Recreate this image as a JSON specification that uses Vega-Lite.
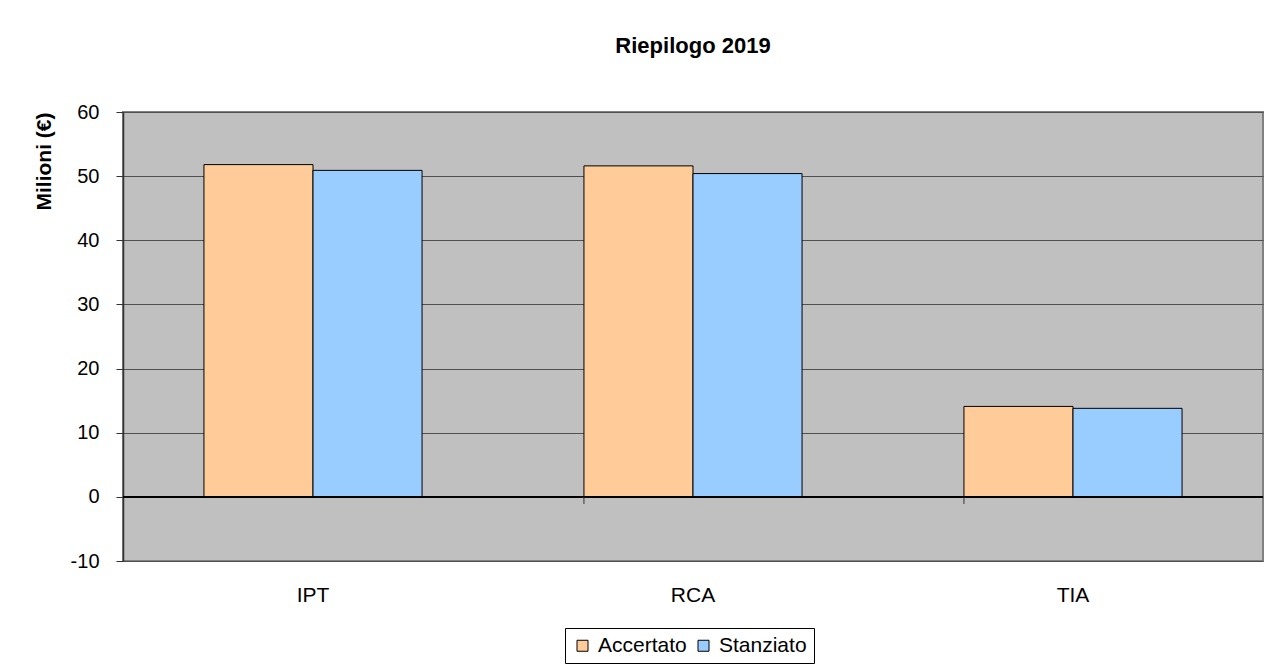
{
  "$schema": "https://vega.github.io/schema/vega-lite/v6.json",
  "width": 1140,
  "height": 449,
  "autosize": {"type": "none"},
  "padding": {"left": 123, "top": 112, "right": 2, "bottom": 103},
  "background": "white",
  "title": {
    "text": "Riepilogo 2019",
    "font": "Liberation Sans",
    "fontSize": 22,
    "fontWeight": "bold",
    "color": "black",
    "anchor": "middle",
    "offset": 44
  },
  "data": {
    "values": [
      {"voce": "IPT", "serie": "Accertato", "valore": 51.8},
      {"voce": "IPT", "serie": "Stanziato", "valore": 50.9},
      {"voce": "RCA", "serie": "Accertato", "valore": 51.6},
      {"voce": "RCA", "serie": "Stanziato", "valore": 50.4},
      {"voce": "TIA", "serie": "Accertato", "valore": 14.1},
      {"voce": "TIA", "serie": "Stanziato", "valore": 13.8}
    ]
  },
  "layer": [
    {
      "mark": {"type": "bar", "stroke": "black", "strokeWidth": 1},
      "encoding": {
        "x": {
          "field": "voce",
          "type": "nominal",
          "sort": ["IPT", "RCA", "TIA"],
          "scale": {"paddingInner": 0.426, "paddingOuter": 0.213},
          "axis": {
            "title": null,
            "labelAngle": 0,
            "labelFont": "Liberation Sans",
            "labelFontSize": 21,
            "labelColor": "black",
            "labelPadding": 23,
            "ticks": false,
            "domain": false
          }
        },
        "xOffset": {
          "field": "serie",
          "sort": ["Accertato", "Stanziato"],
          "scale": {"paddingInner": 0, "paddingOuter": 0}
        },
        "y": {
          "field": "valore",
          "type": "quantitative",
          "scale": {"domain": [-10, 60], "nice": false},
          "axis": {
            "title": "Milioni (€)",
            "titleFont": "Liberation Sans",
            "titleFontSize": 21,
            "titleFontWeight": "bold",
            "titleColor": "black",
            "titleAnchor": "end",
            "titlePadding": 16,
            "values": [-10, 0, 10, 20, 30, 40, 50, 60],
            "labelExpr": "'' + datum.value",
            "labelFont": "Liberation Sans",
            "labelFontSize": 20,
            "labelColor": "black",
            "labelPadding": 17,
            "tickColor": "#333333",
            "tickSize": 7,
            "domainColor": "#333333",
            "domainWidth": 1.5,
            "gridColor": "#505050",
            "gridWidth": 1,
            "gridOpacity": 1
          }
        },
        "color": {
          "field": "serie",
          "type": "nominal",
          "sort": ["Accertato", "Stanziato"],
          "scale": {"range": ["#FFCC99", "#99CCFF"]},
          "legend": {
            "title": null,
            "orient": "none",
            "legendX": 442,
            "legendY": 516,
            "direction": "horizontal",
            "labelFont": "Liberation Sans",
            "labelFontSize": 21,
            "labelColor": "black",
            "labelOffset": 5,
            "symbolType": "square",
            "symbolSize": 121,
            "symbolStrokeColor": "black",
            "symbolStrokeWidth": 1,
            "symbolOpacity": 1,
            "strokeColor": "black",
            "fillColor": "white",
            "padding": 7,
            "columnPadding": 6
          }
        }
      }
    },
    {
      "mark": {"type": "rule", "color": "black", "strokeWidth": 1.2},
      "encoding": {"y": {"datum": 0}}
    },
    {
      "data": {"values": [{"voce": "RCA"}, {"voce": "TIA"}]},
      "mark": {"type": "rule", "color": "#333333", "strokeWidth": 1},
      "encoding": {
        "x": {"field": "voce", "type": "nominal", "bandPosition": 0},
        "y": {"datum": 0},
        "y2": {"datum": -1.1}
      }
    }
  ],
  "config": {
    "view": {"fill": "#C0C0C0", "stroke": "#808080", "strokeWidth": 2}
  }
}
